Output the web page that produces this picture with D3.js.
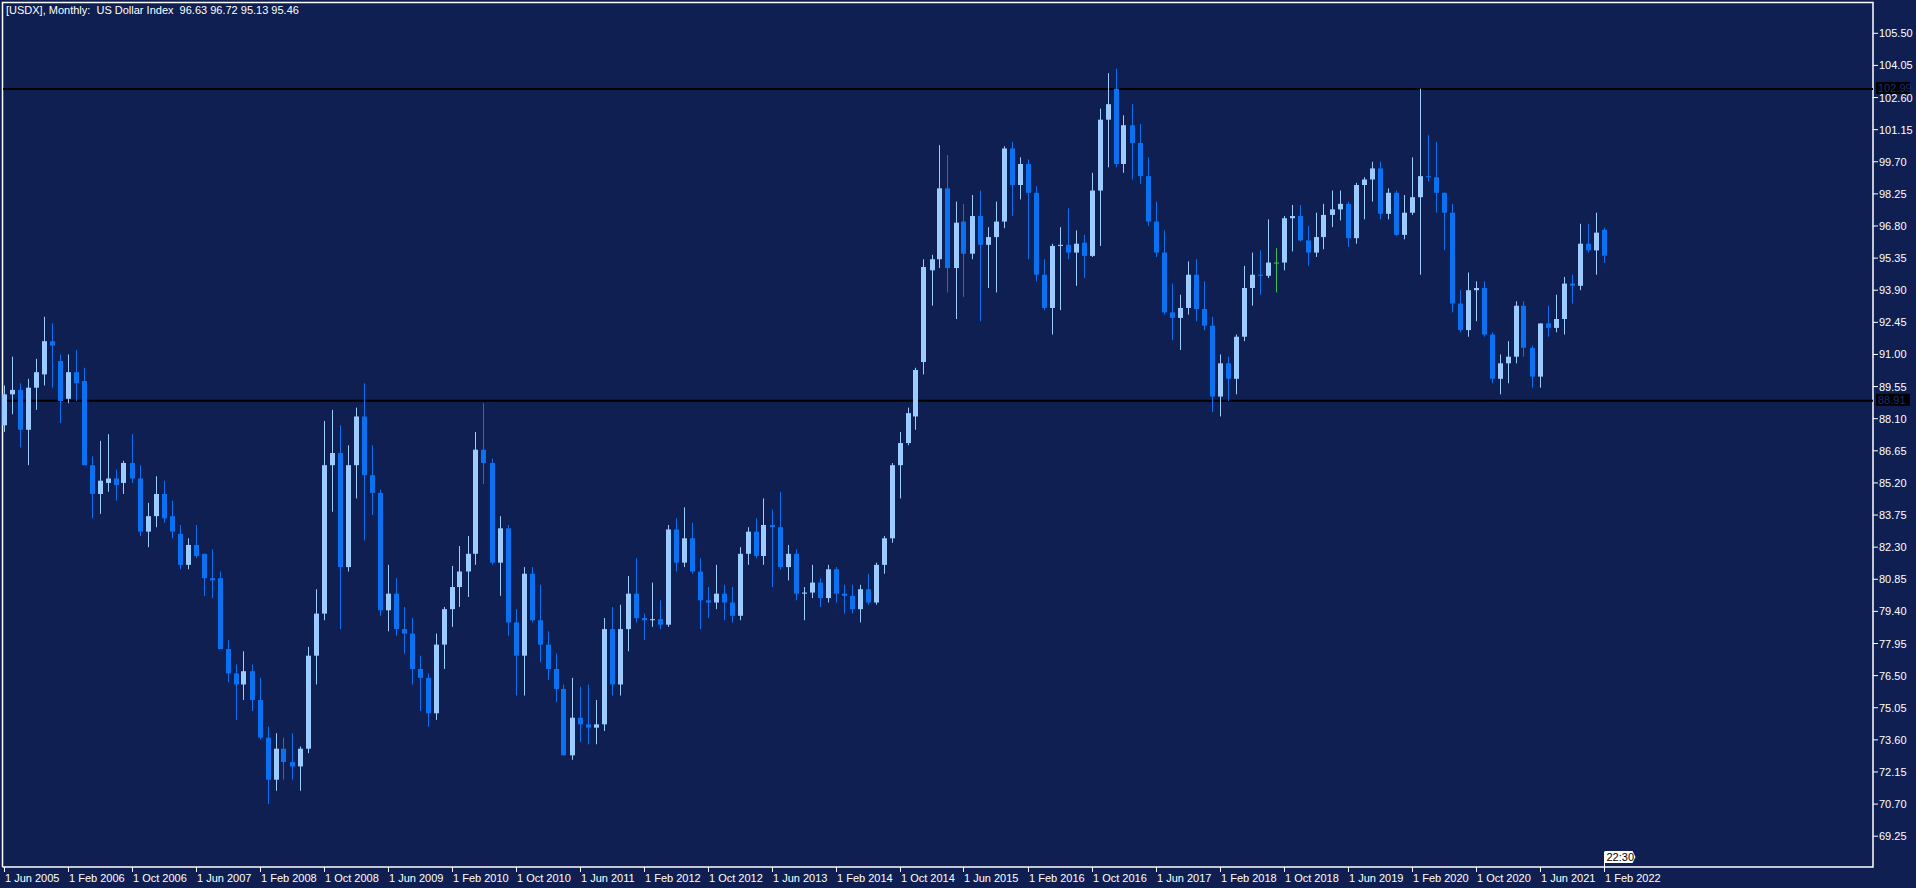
<!DOCTYPE html>
<html>
<head>
<meta charset="utf-8">
<script src="https://cdn.jsdelivr.net/npm/d3@7"></script>
<style>
  html, body { margin: 0; padding: 0; background: #0f1f51; overflow: hidden; }
  svg { display: block; }
  text { white-space: pre; }
</style>
</head>
<body>
<div id="chart"></div>
<script>
// USDX monthly candles, Jun 2005 .. Feb 2022, rows are [open, high, low, close]
const firstMonth = new Date(2005, 5, 1);
const candles = [
  [87.8,89.6,87.5,89.2],[89.2,90.9,88.3,89.4],[89.4,89.7,86.8,87.6],[87.6,89.9,86.0,89.5],
  [89.5,90.8,88.5,90.2],[90.1,92.7,89.6,91.6],[91.6,92.4,89.5,91.4],
  // 2006
  [90.7,91.0,87.9,88.9],[89.0,91.0,88.8,90.2],[90.2,91.2,88.9,89.7],[89.8,90.4,86.0,86.0],
  [86.0,86.4,83.6,84.7],[84.7,87.1,83.8,85.3],[85.2,87.4,84.8,85.4],[85.4,85.8,84.4,85.1],
  [85.2,86.2,84.7,86.1],[86.1,87.4,85.2,85.4],[85.4,86.0,82.8,83.0],[83.0,84.3,82.3,83.7],
  // 2007
  [83.7,85.5,83.2,84.7],[84.7,85.3,83.4,83.6],[83.7,84.4,82.7,83.0],[82.9,83.3,81.3,81.5],
  [81.5,82.7,81.3,82.4],[82.4,83.3,81.8,81.9],[82.0,82.0,80.1,80.9],[80.9,82.2,80.0,80.8],
  [80.9,81.2,77.7,77.7],[77.7,78.1,76.2,76.6],[76.6,77.0,74.5,76.1],[76.1,77.6,75.4,76.7],
  // 2008
  [76.7,77.0,74.9,75.4],[75.4,76.4,73.6,73.7],[73.7,74.2,70.7,71.8],[71.8,73.9,71.3,73.2],
  [73.2,73.7,71.8,72.6],[72.6,73.9,71.8,72.4],[72.4,73.3,71.3,73.2],[73.2,77.8,73.0,77.4],
  [77.4,80.4,76.1,79.3],[79.3,88.0,79.0,86.0],[86.0,88.5,83.9,86.55],[86.55,87.8,78.6,81.4],
  // 2009
  [81.4,86.9,81.2,86.0],[86.0,88.6,84.5,88.2],[88.2,89.7,82.6,85.55],[85.55,86.9,83.75,84.75],
  [84.75,84.9,79.2,79.45],[79.45,81.5,78.5,80.2],[80.2,80.9,78.3,78.6],[78.6,79.6,77.5,78.4],
  [78.4,79.1,76.1,76.8],[76.8,77.4,74.9,76.4],[76.4,76.6,74.2,74.8],[74.8,78.4,74.5,77.9],
  // 2010
  [77.9,79.6,76.8,79.5],[79.5,81.45,78.7,80.5],[80.5,82.35,79.6,81.2],[81.2,82.8,80.05,82.0],
  [82.0,87.5,81.5,86.7],[86.7,88.8,85.15,86.1],[86.1,86.3,81.5,81.6],[81.6,83.7,80.1,83.15],
  [83.15,83.3,78.3,78.9],[78.9,79.5,75.6,77.4],[77.4,81.4,75.6,81.1],[81.1,81.4,78.9,79.0],
  // 2011
  [79.0,80.6,77.1,77.9],[77.9,78.5,76.3,76.8],[76.8,77.5,75.3,75.9],[75.9,76.1,72.9,72.9],
  [72.9,76.4,72.7,74.6],[74.6,76.0,73.5,74.3],[74.3,76.1,73.4,74.15],[74.15,75.4,73.4,74.3],
  [74.3,79.1,74.0,78.6],[78.6,79.6,75.6,76.1],[76.1,79.7,75.6,78.6],[78.6,81.0,77.6,80.2],
  // 2012
  [80.2,81.8,78.9,79.1],[79.1,79.3,78.1,79.0],[79.0,80.7,78.7,79.05],[79.05,79.9,78.6,78.8],
  [78.8,83.3,78.7,83.1],[83.1,83.6,81.2,81.6],[81.6,84.1,81.4,82.7],[82.7,83.4,81.1,81.2],
  [81.2,81.8,78.6,79.9],[79.9,80.5,79.1,79.8],[79.8,81.5,79.5,80.2],[80.2,80.6,79.0,79.8],
  // 2013
  [79.8,80.5,78.9,79.2],[79.2,82.3,79.0,82.0],[82.0,83.2,81.5,83.0],[83.0,83.6,81.8,81.9],
  [81.9,84.5,81.5,83.3],[83.3,84.0,80.5,83.2],[83.2,84.8,81.3,81.4],[81.4,82.4,80.8,82.0],
  [82.0,82.2,79.9,80.2],[80.2,80.5,79.0,80.25],[80.25,81.5,80.0,80.7],[80.7,80.9,79.6,80.0],
  // 2014
  [80.0,81.5,79.8,81.3],[81.3,81.4,79.8,80.2],[80.2,80.6,79.3,80.1],[80.1,80.6,79.3,79.5],
  [79.5,80.6,78.9,80.4],[80.4,81.1,79.7,79.8],[79.8,81.6,79.7,81.5],[81.5,82.8,81.1,82.7],
  [82.7,86.1,82.5,86.0],[86.0,87.5,84.5,87.0],[87.0,88.6,86.9,88.35],[88.2,90.4,87.6,90.3],
  // 2015
  [90.66,95.3,90.1,94.95],[94.8,95.5,93.2,95.3],[95.3,100.45,94.9,98.5],[98.5,100.0,93.8,94.9],
  [94.9,97.9,92.6,96.95],[97.0,97.8,93.6,95.55],[95.55,98.2,95.3,97.25],[97.25,98.4,92.5,95.95],
  [95.95,96.75,94.0,96.3],[96.3,97.9,93.8,97.0],[97.0,100.4,96.7,100.3],[100.3,100.6,97.25,98.65],
  // 2016
  [98.65,99.9,98.0,99.6],[99.6,99.8,95.3,98.3],[98.3,98.6,94.3,94.6],[94.6,95.3,93.0,93.1],
  [93.1,96.0,91.9,95.9],[95.9,96.75,93.0,95.95],[95.95,97.6,95.3,95.6],[95.6,96.6,94.1,96.0],
  [96.05,96.4,94.45,95.45],[95.45,99.2,95.4,98.4],[98.4,102.1,95.9,101.6],[101.6,103.7,99.45,102.3],
  // 2017
  [103.0,103.9,99.45,99.6],[99.6,101.8,99.2,101.35],[101.35,102.3,98.9,100.55],[100.55,101.4,98.7,99.05],
  [99.05,99.9,96.8,97.0],[97.0,97.9,95.4,95.6],[95.6,96.6,92.8,92.9],[92.9,94.2,91.65,92.65],
  [92.65,93.7,91.2,93.1],[93.1,95.2,92.8,94.6],[94.6,95.3,92.5,93.05],[93.05,94.3,92.1,92.3],
  // 2018
  [92.3,92.7,88.4,89.1],[89.1,91.0,88.2,90.6],[90.6,90.9,88.9,89.9],[89.9,91.9,89.2,91.8],
  [91.8,95.0,91.6,94.0],[94.0,95.6,93.2,94.6],[94.6,95.7,93.7,94.55],[94.55,97.1,94.45,95.15],
  [95.15,95.8,93.8,95.15],[95.15,97.25,94.8,97.15],[97.15,97.75,95.65,97.25],[97.25,97.75,96.1,96.15],
  // 2019
  [96.15,96.8,95.0,95.6],[95.6,97.4,95.4,96.3],[96.3,97.8,95.75,97.3],[97.3,98.4,96.75,97.55],
  [97.55,98.4,97.05,97.8],[97.8,97.9,95.85,96.25],[96.25,98.75,96.0,98.65],[98.65,99.0,97.1,98.9],
  [98.9,99.7,97.9,99.4],[99.4,99.7,97.1,97.35],[97.35,98.5,97.1,98.3],[98.3,98.4,96.35,96.4],
  // 2020
  [96.4,98.2,96.2,97.4],[97.4,99.9,97.3,98.1],[98.1,103.0,94.6,99.05],[99.05,100.9,98.8,99.0],
  [99.0,100.6,97.4,98.3],[98.3,98.3,95.7,97.4],[97.4,97.8,92.9,93.3],[93.3,93.9,92.0,92.1],
  [92.1,94.7,91.8,93.9],[93.9,94.3,92.5,94.0],[94.0,94.3,91.8,91.9],[91.9,92.0,89.7,89.9],
  // 2021
  [89.9,91.0,89.2,90.6],[90.6,91.6,89.7,90.9],[90.9,93.4,90.6,93.2],[93.2,93.4,90.9,91.3],
  [91.3,91.4,89.5,90.0],[90.0,92.4,89.5,92.4],[92.4,93.2,91.8,92.2],[92.2,93.7,92.0,92.6],
  [92.6,94.5,91.9,94.2],[94.2,94.6,93.3,94.1],[94.1,96.9,93.9,96.0],[96.0,96.9,95.6,95.7],
  // 2022
  [95.7,97.4,94.6,96.5],[96.63,96.72,95.13,95.46]
];
const priceTicks = [105.50,104.05,102.60,101.15,99.70,98.25,96.80,95.35,93.90,92.45,91.00,89.55,
  88.10,86.65,85.20,83.75,82.30,80.85,79.40,77.95,76.50,75.05,73.60,72.15,70.70,69.25];
const levels = [102.99, 88.91];
const dateEvery = 8;
const title = "[USDX], Monthly:  US Dollar Index  96.63 96.72 95.13 95.46";
const timer = "22:30";

const W = 1916, H = 888;
const plotR = 1873, plotB = 867;
const bg = "#0f1f51", bull = "#9ccbff", bear = "#0a72f0", doji = "#3fbf5a";
const font = "'Liberation Sans', Arial, sans-serif";

const svg = d3.select("#chart").append("svg")
  .attr("width", W).attr("height", H)
  .style("background", bg);

const x = d3.scaleLinear().domain([0, candles.length - 1]).range([3.5, 1603.5]);
const y = d3.scaleLinear().domain([69.25, 105.5]).range([836.2, 33.3]);
const monthDate = i => d3.timeMonth.offset(firstMonth, i);

// frame
svg.append("path")
  .attr("d", `M2.5,${plotB} V2.5 H${plotR} V${plotB} H2.5`)
  .attr("fill", "none").attr("stroke", "#fff").attr("stroke-width", 1.5);

// horizontal levels
svg.selectAll("line.level").data(levels).join("line")
  .attr("class", "level")
  .attr("x1", 3).attr("x2", plotR)
  .attr("y1", d => y(d)).attr("y2", d => y(d))
  .attr("stroke", "#000").attr("stroke-width", 2);

// candles
const g = svg.append("g");
const col = d => d[0] === d[3] ? doji : (d[3] > d[0] ? bull : bear);
g.selectAll("line.wick").data(candles).join("line")
  .attr("x1", (d, i) => Math.round(x(i)) + 0.5).attr("x2", (d, i) => Math.round(x(i)) + 0.5)
  .attr("y1", d => y(d[1])).attr("y2", d => y(d[2]))
  .attr("stroke", col).attr("stroke-width", 1);
g.selectAll("rect.body").data(candles).join("rect")
  .attr("x", (d, i) => Math.round(x(i)) - 2)
  .attr("width", 5)
  .attr("y", d => y(Math.max(d[0], d[3])))
  .attr("height", d => Math.max(1, Math.abs(y(d[0]) - y(d[3]))))
  .attr("fill", col);

// price axis
const pa = svg.append("g");
pa.selectAll("line").data(priceTicks).join("line")
  .attr("x1", plotR).attr("x2", plotR + 5)
  .attr("y1", d => y(d)).attr("y2", d => y(d))
  .attr("stroke", "#fff");
pa.selectAll("text").data(priceTicks).join("text")
  .attr("x", plotR + 6).attr("y", d => y(d) + 4)
  .attr("fill", "#fff").attr("font-family", font).attr("font-size", 11)
  .text(d => d.toFixed(2));

// level price boxes
const lb = svg.selectAll("g.lbl").data(levels).join("g").attr("class", "lbl");
lb.append("rect")
  .attr("x", plotR + 3).attr("y", d => y(d) - 7).attr("width", 34).attr("height", 12)
  .attr("fill", "#000");
lb.append("text")
  .attr("x", plotR + 5).attr("y", d => y(d) + 3)
  .attr("fill", "#1b2d6e").attr("font-family", font).attr("font-size", 11)
  .text(d => d.toFixed(2));

// date axis
const fmt = d3.timeFormat("%-d %b %Y");
const dIdx = d3.range(0, candles.length, dateEvery);
const da = svg.append("g");
da.selectAll("line").data(dIdx).join("line")
  .attr("x1", i => Math.round(x(i)) + 0.5).attr("x2", i => Math.round(x(i)) + 0.5)
  .attr("y1", plotB).attr("y2", plotB + 5)
  .attr("stroke", "#fff");
da.selectAll("text").data(dIdx).join("text")
  .attr("x", i => Math.round(x(i)) + 1).attr("y", plotB + 15)
  .attr("fill", "#fff").attr("font-family", font).attr("font-size", 11)
  .text(i => fmt(monthDate(i)));

// bar timer
const tx = Math.round(x(candles.length - 1)) + 0.5;
svg.append("line").attr("x1", tx).attr("x2", tx).attr("y1", 852).attr("y2", plotB)
  .attr("stroke", "#fff");
svg.append("path")
  .attr("d", `M${tx},851 H${tx + 28} L${tx + 31},857 L${tx + 28},863 H${tx} Z`)
  .attr("fill", "#fff");
svg.append("text").attr("x", tx + 2).attr("y", 861)
  .attr("fill", "#000").attr("font-family", font).attr("font-size", 11)
  .text(timer);

// title
svg.append("text").attr("x", 6).attr("y", 14)
  .attr("fill", "#fff").attr("font-family", font).attr("font-size", 11)
  .text(title);
</script>
</body>
</html>
